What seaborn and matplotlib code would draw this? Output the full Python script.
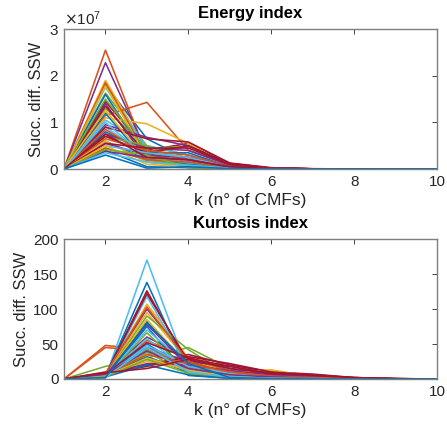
import pandas as pd
import numpy as np
import seaborn as sns
import matplotlib
matplotlib.use('Agg')
from matplotlib import pyplot as plt
from matplotlib.ticker import ScalarFormatter

# number of CMFs
k_values = [1, 2, 3, 4, 5, 6, 7, 8, 9, 10]

# Energy index, successive difference of SSW (in units of 1e6)
energy_lines = [
    [0, 18.0, 6.5, 2.0, 0.5, 0.10, 0.05, 0.02, 0.01, 0],
    [0, 25.5, 3.0, 1.5, 0.4, 0.10, 0.05, 0.02, 0.01, 0],
    [0, 19.0, 4.0, 2.5, 0.6, 0.10, 0.05, 0.02, 0, 0],
    [0, 22.8, 3.5, 1.0, 0.3, 0.10, 0.05, 0.02, 0, 0],
    [0, 16.3, 5.0, 3.0, 0.5, 0.10, 0.05, 0.02, 0, 0],
    [0, 17.5, 4.5, 2.0, 0.4, 0.10, 0.04, 0.02, 0, 0],
    [0, 14.5, 4.0, 5.5, 1.2, 0.20, 0.05, 0.02, 0, 0],
    [0, 16.0, 2.5, 1.0, 0.3, 0.10, 0.03, 0.01, 0, 0],
    [0, 11.5, 14.3, 4.0, 1.0, 0.20, 0.05, 0.02, 0, 0],
    [0, 11.0, 9.7, 5.5, 0.8, 0.10, 0.05, 0.02, 0, 0],
    [0, 14.0, 2.0, 1.5, 0.3, 0.10, 0.03, 0.01, 0, 0],
    [0, 13.0, 4.5, 4.8, 0.8, 0.15, 0.05, 0.02, 0, 0],
    [0, 10.5, 5.0, 3.0, 0.5, 0.10, 0.04, 0.01, 0, 0],
    [0, 13.5, 3.0, 2.0, 0.5, 0.10, 0.04, 0.01, 0, 0],
    [0, 12.0, 1.5, 0.8, 0.2, 0.05, 0.02, 0.01, 0, 0],
    [0, 18.5, 3.0, 2.5, 0.5, 0.10, 0.04, 0.01, 0, 0],
    [0, 17.8, 2.5, 1.0, 0.3, 0.05, 0.02, 0.01, 0, 0],
    [0, 9.5, 6.8, 5.0, 1.2, 0.20, 0.05, 0.02, 0, 0],
    [0, 15.0, 4.0, 0.3, 0.2, 0.05, 0.02, 0.01, 0, 0],
    [0, 9.0, 3.0, 1.2, 0.3, 0.05, 0.02, 0.01, 0, 0],
    [0, 9.0, 6.5, 5.8, 1.3, 0.30, 0.08, 0.02, 0, 0],
    [0, 8.0, 3.5, 3.5, 0.5, 0.10, 0.03, 0.01, 0, 0],
    [0, 8.5, 3.0, 2.0, 0.4, 0.10, 0.03, 0.01, 0, 0],
    [0, 12.5, 2.0, 0.5, 0.2, 0.05, 0.02, 0.01, 0, 0],
    [0, 7.5, 4.5, 4.0, 0.8, 0.15, 0.04, 0.01, 0, 0],
    [0, 7.0, 5.0, 0.5, 0.2, 0.05, 0.02, 0.01, 0, 0],
    [0, 10.0, 2.5, 1.5, 0.3, 0.05, 0.02, 0.01, 0, 0],
    [0, 7.0, 3.5, 5.0, 1.0, 0.20, 0.05, 0.02, 0, 0],
    [0, 6.0, 2.0, 1.0, 0.2, 0.05, 0.02, 0.01, 0, 0],
    [0, 6.5, 4.0, 3.0, 0.6, 0.10, 0.03, 0.01, 0, 0],
    [0, 6.0, 1.5, 0.5, 0.1, 0.03, 0.01, 0, 0, 0],
    [0, 5.5, 3.0, 2.5, 0.5, 0.10, 0.03, 0.01, 0, 0],
    [0, 4.5, 2.0, 0.8, 0.2, 0.05, 0.02, 0, 0, 0],
    [0, 5.0, 3.5, 2.5, 0.4, 0.10, 0.03, 0.01, 0, 0],
    [0, 5.5, 4.5, 4.5, 1.0, 0.20, 0.05, 0.02, 0, 0],
    [0, 4.0, 0.5, 0.3, 0.1, 0.03, 0.01, 0, 0, 0],
    [0, 4.5, 2.0, 1.5, 0.3, 0.05, 0.02, 0, 0, 0],
    [0, 5.0, 1.0, 0.5, 0.1, 0.03, 0.01, 0, 0, 0],
    [0, 3.8, 2.5, 2.0, 0.4, 0.10, 0.03, 0.01, 0, 0],
    [0, 4.2, 3.0, 0.3, 0.1, 0.03, 0.01, 0, 0, 0],
    [0, 3.5, 1.5, 0.8, 0.2, 0.05, 0.02, 0, 0, 0],
    [0, 7.5, 2.5, 2.0, 0.5, 0.10, 0.03, 0.01, 0, 0],
    [0, 3.0, 0.2, 0.5, 0.1, 0.03, 0.01, 0, 0, 0],
]

# Kurtosis index, successive difference of SSW
kurtosis_lines = [
    [0, 3, 82, 20, 5, 2, 1, 0.5, 0.2, 0],
    [0, 48, 42, 25, 10, 4, 2, 0.5, 0.2, 0],
    [0, 5, 107, 30, 12, 5, 2, 1, 0.3, 0],
    [0, 6, 100, 28, 10, 4, 2, 0.5, 0.2, 0],
    [0, 18, 30, 45, 15, 6, 3, 1.5, 0.5, 0],
    [0, 2, 170, 10, 3, 1, 0.5, 0.2, 0, 0],
    [0, 5, 126, 20, 8, 3, 1, 0.5, 0.2, 0],
    [0, 4, 138, 8, 2, 1, 0.5, 0.2, 0, 0],
    [0, 45, 40, 22, 8, 3, 1, 0.5, 0, 0],
    [0, 6, 95, 25, 12, 13, 3, 1, 0.3, 0],
    [0, 8, 60, 30, 15, 6, 3, 1, 0.3, 0],
    [0, 4, 90, 42, 5, 3, 1, 0.5, 0, 0],
    [0, 3, 118, 15, 5, 2, 1, 0.3, 0, 0],
    [0, 10, 20, 35, 20, 10, 7, 2, 0.5, 0],
    [0, 2, 75, 5, 1, 0.5, 0.2, 0, 0, 0],
    [0, 7, 55, 30, 12, 5, 2, 0.5, 0, 0],
    [0, 4, 85, 20, 10, 4, 2, 0.5, 0, 0],
    [0, 5, 45, 25, 18, 8, 4, 1, 0.3, 0],
    [0, 3, 66, 10, 3, 1, 0.5, 0, 0, 0],
    [0, 4, 70, 20, 6, 2, 1, 0.3, 0, 0],
    [0, 6, 122, 25, 8, 3, 1, 0.5, 0, 0],
    [0, 5, 50, 15, 4, 2, 1, 0.3, 0, 0],
    [0, 8, 103, 25, 8, 3, 1, 0.5, 0, 0],
    [0, 3, 35, 20, 10, 12, 4, 1, 0.3, 0],
    [0, 5, 78, 18, 6, 3, 1, 0.3, 0, 0],
    [0, 4, 38, 8, 3, 1, 0.5, 0.2, 0, 0],
    [0, 3, 58, 12, 4, 2, 0.5, 0.2, 0, 0],
    [0, 7, 52, 30, 18, 8, 5, 2, 0.5, 0],
    [0, 4, 32, 10, 2, 1, 0.5, 0, 0, 0],
    [0, 6, 28, 18, 8, 4, 2, 0.5, 0, 0],
    [0, 5, 25, 15, 6, 3, 1, 0.3, 0, 0],
    [0, 6, 22, 20, 12, 6, 3, 1, 0.2, 0],
    [0, 4, 42, 12, 6, 2, 1, 0.3, 0, 0],
    [0, 3, 48, 18, 8, 3, 1, 0.3, 0, 0],
    [0, 8, 18, 32, 22, 10, 6, 2, 0.5, 0],
    [0, 3, 20, 6, 1, 0.5, 0.2, 0, 0, 0],
    [0, 5, 35, 22, 10, 4, 2, 0.5, 0, 0],
    [0, 4, 30, 12, 5, 2, 1, 0.3, 0, 0],
    [0, 7, 40, 15, 6, 3, 1, 0.3, 0, 0],
    [0, 3, 28, 8, 3, 1, 0.5, 0, 0, 0],
    [0, 2, 45, 10, 3, 1, 0.5, 0, 0, 0],
    [0, 9, 15, 28, 15, 8, 5, 2, 0.5, 0],
    [0, 2, 80, 22, 2, 0.5, 0.2, 0, 0, 0],
]

# MATLAB default colour order
matlab_colors = ['#0072BD', '#D95319', '#EDB120', '#7E2F8E',
                 '#77AC30', '#4DBEEE', '#A2142F']


def to_long(lines, scale=1.0):
    rows = []
    for i, vals in enumerate(lines):
        for k, v in zip(k_values, vals):
            rows.append({'k': k, 'value': v * scale, 'line': i})
    return pd.DataFrame(rows)


def style_axes(ax, title, yticks):
    ax.set_title(title, fontweight='bold', fontsize=12, color='black', pad=8)
    ax.set_xlabel('k (n° of CMFs)', fontsize=12.5, color='#262626', labelpad=3)
    ax.set_ylabel('Succ. diff. SSW', fontsize=12, color='#262626', labelpad=3)
    ax.set_xlim(1, 10)
    ax.set_xticks([2, 4, 6, 8, 10])
    ax.set_yticks(yticks)
    ax.set_ylim(yticks[0], yticks[-1])
    ax.tick_params(direction='in', length=3.5, width=0.6, colors='#262626',
                   labelsize=11, top=True, right=True, pad=4)
    for side in ax.spines.values():
        side.set_visible(True)
        side.set_color('#7f7f7f')
        side.set_linewidth(1.0)


sns.set_theme(style='white')
plt.rcParams['font.family'] = ['Liberation Sans', 'DejaVu Sans']

fig = plt.figure(figsize=(4.47, 4.28), dpi=100)
ax1 = fig.add_axes([0.1432, 0.605, 0.8345, 0.327])
ax2 = fig.add_axes([0.1432, 0.1145, 0.8345, 0.327])

energy_df = to_long(energy_lines, scale=1e6)
kurt_df = to_long(kurtosis_lines)

pal_e = [matlab_colors[i % 7] for i in range(len(energy_lines))]
pal_k = [matlab_colors[i % 7] for i in range(len(kurtosis_lines))]

sns.lineplot(data=energy_df, x='k', y='value', hue='line', palette=pal_e,
             legend=False, errorbar=None, lw=1.15, ax=ax1)
sns.lineplot(data=kurt_df, x='k', y='value', hue='line', palette=pal_k,
             legend=False, errorbar=None, lw=1.15, ax=ax2)

style_axes(ax1, 'Energy index', [0, 1e7, 2e7, 3e7])
fmt = ScalarFormatter(useMathText=True)
fmt.set_powerlimits((0, 0))
ax1.yaxis.set_major_formatter(fmt)
ax1.yaxis.get_offset_text().set_fontsize(11)
ax1.yaxis.get_offset_text().set_color('#262626')

style_axes(ax2, 'Kurtosis index', [0, 50, 100, 150, 200])

fig.savefig('out.png', dpi=100)
